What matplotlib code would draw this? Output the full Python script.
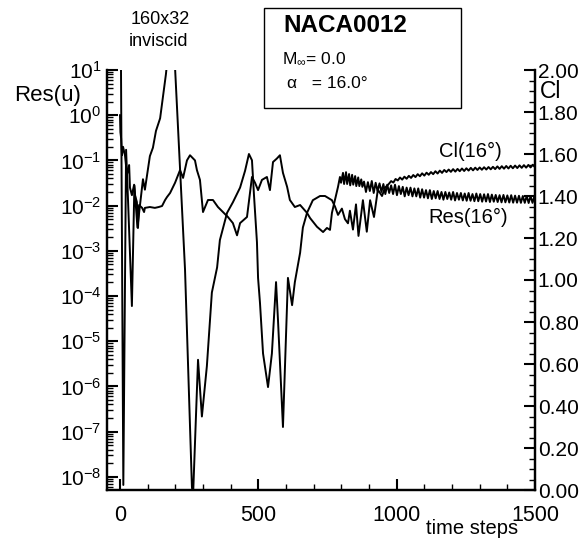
import matplotlib
matplotlib.use("Agg")
import matplotlib.pyplot as plt
from matplotlib.patches import Rectangle
from matplotlib.ticker import (LogLocator, MultipleLocator, NullFormatter,
                               FormatStrFormatter, FixedLocator)

plt.rcParams["font.family"] = ["Liberation Sans", "DejaVu Sans"]
plt.rcParams["mathtext.fontset"] = "custom"
plt.rcParams["mathtext.rm"] = "Liberation Sans"
plt.rcParams["mathtext.it"] = "Liberation Sans:italic"

# --- Res(u) history (left, log axis) ---
res_steps_head = [0, 1.5, 4, 7, 11, 18, 25, 33, 36, 43,
                  51, 54, 61, 65, 69, 80, 87, 90, 108, 126,
                  140, 152, 163, 170, 181, 199, 217, 228, 242, 253,
                  271, 278, 289, 300, 318, 336, 354, 372, 390, 408,
                  423, 434, 459, 477, 488, 499, 513, 531, 542, 553,
                  567, 578, 589, 604, 614, 632, 651, 676, 687, 712,
                  734, 748, 759, 766, 777, 788, 795, 799, 806, 810,
                  817, 821, 828, 832, 839, 843, 850, 854, 861, 865,
                  872, 876]
res_vals_head = [1.0, 0.42, 0.31, 0.13, 0.20, 0.13, 0.048, 0.079, 0.025, 0.017,
                 0.029, 0.017, 0.012, 0.0032, 0.0103, 0.0089, 0.0072, 0.0089, 0.0093, 0.0089,
                 0.0093, 0.0098, 0.0133, 0.0155, 0.019, 0.032, 0.061, 0.041, 0.10, 0.13,
                 0.10, 0.061, 0.037, 0.0072, 0.0133, 0.0133, 0.0093, 0.0072, 0.0056, 0.0041,
                 0.0022, 0.0041, 0.0056, 0.043, 0.032, 0.022, 0.037, 0.043, 0.022, 0.092,
                 0.11, 0.13, 0.053, 0.026, 0.0133, 0.0093, 0.0103, 0.0069, 0.0053, 0.0034,
                 0.0026, 0.0032, 0.0029, 0.0069, 0.0133, 0.026, 0.043, 0.032, 0.053, 0.030,
                 0.055, 0.030, 0.050, 0.028, 0.048, 0.029, 0.045, 0.027, 0.042, 0.027,
                 0.038, 0.026]
res_steps_tail = [882, 889, 896, 903, 910, 917, 924, 931, 938, 945,
                  952, 959, 966, 973, 980, 987, 994, 1001, 1008, 1015,
                  1022, 1029, 1036, 1043, 1050, 1057, 1064, 1071, 1078, 1085,
                  1092, 1099, 1106, 1113, 1120, 1127, 1134, 1141, 1148, 1155,
                  1162, 1169, 1176, 1183, 1190, 1197, 1204, 1211, 1218, 1225,
                  1232, 1239, 1246, 1253, 1260, 1267, 1274, 1281, 1288, 1295,
                  1302, 1309, 1316, 1323, 1330, 1337, 1344, 1351, 1358, 1365,
                  1372, 1379, 1386, 1393, 1400, 1407, 1414, 1421, 1428, 1435,
                  1442, 1449, 1456, 1463, 1470, 1477, 1484, 1491, 1498]
res_vals_tail = [0.034, 0.020, 0.033, 0.021, 0.035, 0.019, 0.032, 0.021, 0.031, 0.020,
                 0.030, 0.018, 0.029, 0.019, 0.028, 0.018, 0.029, 0.017, 0.027, 0.018,
                 0.026, 0.016, 0.025, 0.017, 0.025, 0.016, 0.024, 0.016, 0.024, 0.015,
                 0.023, 0.015, 0.022, 0.0145, 0.022, 0.014, 0.021, 0.0145, 0.021, 0.014,
                 0.020, 0.0135, 0.020, 0.014, 0.0195, 0.0135, 0.020, 0.013, 0.019, 0.0135,
                 0.019, 0.013, 0.0185, 0.0128, 0.019, 0.0128, 0.018, 0.0125, 0.0185, 0.0125,
                 0.018, 0.0122, 0.0178, 0.0123, 0.018, 0.012, 0.0175, 0.0122, 0.0172, 0.012,
                 0.017, 0.0118, 0.0172, 0.0118, 0.0168, 0.0117, 0.017, 0.0116, 0.0166, 0.0116,
                 0.0165, 0.0115, 0.0163, 0.0115, 0.0164, 0.0114, 0.0162, 0.0115, 0.0163]

# --- Cl history (right, linear axis) ---
cl_steps_head = [0, 3.6, 12, 22, 29, 43, 52, 63, 83, 90,
                 108, 119, 130, 145, 155, 166, 173, 188, 199, 235,
                 260, 264, 282, 296, 314, 332, 351, 361, 387, 408,
                 434, 452, 466, 477, 484, 495, 499, 506, 517, 535,
                 549, 564, 571, 589, 600, 607, 622, 632, 640, 651,
                 661, 676, 697, 723, 741, 766, 777, 788, 802, 813,
                 824, 831, 842, 853, 862, 878, 892, 904, 918, 932,
                 947, 958, 970]
cl_vals_head = [2.14, 2.0, 0.024, 1.62, 1.38, 0.876, 1.45, 1.25, 1.48, 1.43,
                1.59, 1.63, 1.71, 1.77, 1.87, 1.98, 2.07, 2.10, 2.01, 1.05,
                0.014, -0.03, 0.62, 0.35, 0.59, 0.94, 1.06, 1.19, 1.32, 1.37,
                1.44, 1.52, 1.60, 1.57, 1.41, 1.18, 1.01, 0.89, 0.65, 0.49,
                0.65, 0.99, 0.81, 0.30, 0.73, 1.01, 0.88, 0.99, 1.05, 1.13,
                1.25, 1.32, 1.38, 1.40, 1.40, 1.38, 1.35, 1.31, 1.34, 1.29,
                1.27, 1.33, 1.24, 1.36, 1.21, 1.38, 1.23, 1.38, 1.30, 1.43,
                1.40, 1.44, 1.455]
cl_steps_tail = [980, 988, 996, 1004, 1012, 1020, 1028, 1036, 1044, 1052,
                 1060, 1068, 1076, 1084, 1092, 1100, 1108, 1116, 1124, 1132,
                 1140, 1148, 1156, 1164, 1172, 1180, 1188, 1196, 1204, 1212,
                 1220, 1228, 1236, 1244, 1252, 1260, 1268, 1276, 1284, 1292,
                 1300, 1308, 1316, 1324, 1332, 1340, 1348, 1356, 1364, 1372,
                 1380, 1388, 1396, 1404, 1412, 1420, 1428, 1436, 1444, 1452,
                 1460, 1468, 1476, 1484, 1492, 1500]
cl_vals_tail = [1.471, 1.464, 1.481, 1.474, 1.488, 1.478, 1.492, 1.482, 1.496, 1.486,
                1.500, 1.490, 1.504, 1.494, 1.508, 1.497, 1.511, 1.501, 1.514, 1.504,
                1.518, 1.507, 1.521, 1.510, 1.524, 1.514, 1.526, 1.515, 1.528, 1.516,
                1.529, 1.518, 1.531, 1.519, 1.532, 1.521, 1.534, 1.522, 1.535, 1.524,
                1.536, 1.525, 1.537, 1.526, 1.538, 1.527, 1.539, 1.528, 1.541, 1.529,
                1.542, 1.530, 1.543, 1.531, 1.544, 1.532, 1.545, 1.533, 1.546, 1.534,
                1.547, 1.535, 1.548, 1.536, 1.549, 1.537]

x_ticks = [0, 500, 1000, 1500]

res_steps = res_steps_head + res_steps_tail
res_vals = res_vals_head + res_vals_tail
cl_steps = cl_steps_head + cl_steps_tail
cl_vals = cl_vals_head + cl_vals_tail

W, H = 583, 540


def px(x, y):
    # pixel position in the reference -> figure fraction
    return x / W, 1 - y / H


fig = plt.figure(figsize=(W / 100, H / 100), dpi=100)
ax = fig.add_axes([107 / W, 1 - 490 / H, (535 - 107) / W, (490 - 70) / H])
ax2 = ax.twinx()

ax.plot(res_steps, res_vals, color="black", lw=1.4)
ax2.plot(cl_steps, cl_vals, color="black", lw=1.4)

ax.set_xlim(-47, 1500)
ax.set_yscale("log")
ax.set_ylim(5.1e-9, 10)
ax2.set_ylim(0, 2)

ax.xaxis.set_major_locator(FixedLocator(x_ticks))
ax.xaxis.set_minor_locator(MultipleLocator(100))
ax.yaxis.set_major_locator(LogLocator(base=10, numticks=20))
ax.yaxis.set_minor_locator(LogLocator(base=10, subs=range(2, 10), numticks=20))
ax.yaxis.set_minor_formatter(NullFormatter())
ax2.yaxis.set_major_locator(MultipleLocator(0.2))
ax2.yaxis.set_minor_locator(MultipleLocator(0.05))
ax2.yaxis.set_major_formatter(FormatStrFormatter("%.2f"))

for a in (ax, ax2):
    a.spines["top"].set_visible(False)
    for s in ("left", "right", "bottom"):
        a.spines[s].set_linewidth(1.6)
    a.tick_params(which="major", direction="in", length=8, width=1.5,
                  labelsize=15, top=False)
    a.tick_params(which="minor", direction="in", length=4.5, width=1.0, top=False)

ax.tick_params(axis="x", which="major", labelsize=15.5, pad=11)
ax.tick_params(axis="y", which="major", labelsize=15, pad=4)
ax2.tick_params(axis="y", which="major", labelsize=15, pad=2)

# annotations
fig.text(*px(160, 20), "160x32", ha="center", va="center", fontsize=13)
fig.text(*px(159, 42), "inviscid", ha="center", va="center", fontsize=13)
fig.text(*px(14, 95), "Res(u)", ha="left", va="center", fontsize=16)
fig.text(*px(540, 91), "Cl", ha="left", va="center", fontsize=16.5)
fig.text(*px(472, 529), "time steps", ha="center", va="center", fontsize=14.5)
fig.text(*px(439, 151), "Cl(16°)", ha="left", va="center", fontsize=14.5)
fig.text(*px(428, 217), "Res(16°)", ha="left", va="center", fontsize=14.5)

x0, y0 = px(264, 108)
x1, y1 = px(461, 8)
fig.patches.append(Rectangle((x0, y0), x1 - x0, y1 - y0, transform=fig.transFigure,
                             fill=False, edgecolor="black", lw=1.0))
fig.text(*px(283, 26), "NACA0012", ha="left", va="center", fontsize=17.5,
         fontweight="bold")
fig.text(*px(282, 59), r"M$_{\infty}$= 0.0", ha="left", va="center", fontsize=12.5)
fig.text(*px(287, 83), "α   = 16.0°", ha="left", va="center", fontsize=12.5)

fig.savefig("out.png", dpi=100)
